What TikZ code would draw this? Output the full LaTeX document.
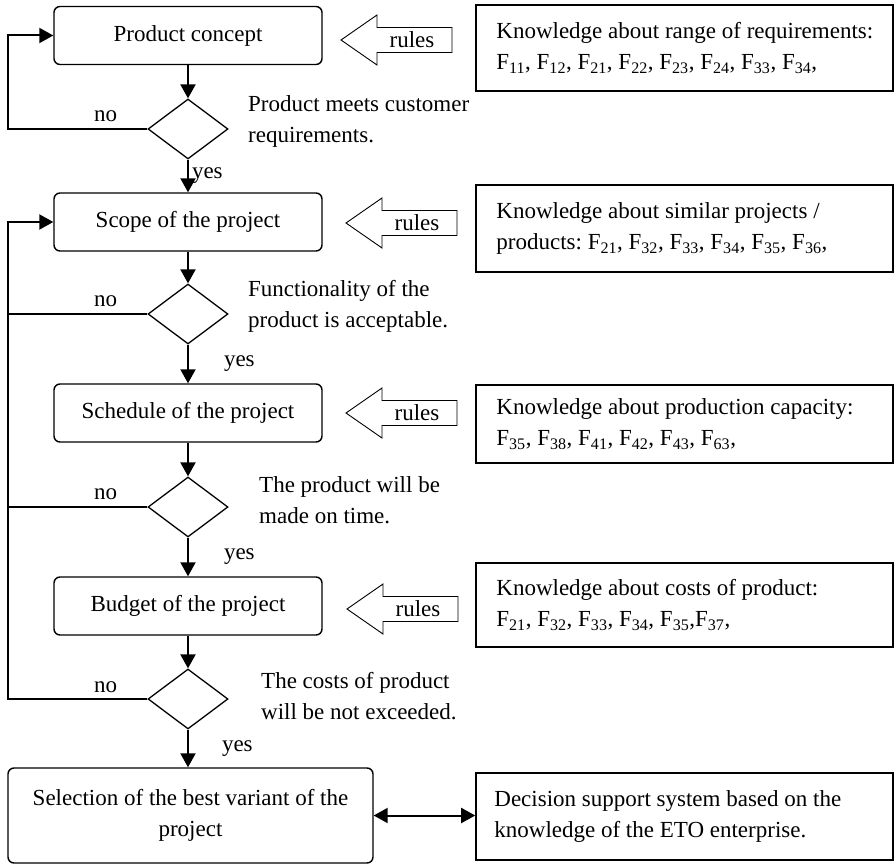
\documentclass[tikz,border=0pt]{standalone}
\usepackage{fontspec}
\setmainfont{Liberation Serif}
\usetikzlibrary{shapes.geometric,arrows.meta}
\begin{document}
\begin{tikzpicture}[x=1pt,y=-1pt,
  font=\fontsize{23}{31}\selectfont\frenchspacing,
  flow/.style={draw, line width=1.4pt, rounded corners=6pt,
    minimum width=268pt, minimum height=58pt, inner sep=0pt},
  test/.style={draw, diamond, line width=1.3pt,
    minimum width=80pt, minimum height=60pt, inner sep=0pt},
  know/.style={draw, line width=1.6pt, minimum width=417pt, inner sep=0pt},
  ktext/.style={anchor=west, align=left, inner sep=0pt},
  cond/.style={anchor=west, align=left, inner sep=0pt},
  link/.style={line width=2pt},
  arr/.style={line width=2pt, -{Triangle[length=14pt,width=15pt]}},
  both/.style={line width=2pt, {Triangle[length=14pt,width=15pt]}-{Triangle[length=14pt,width=15pt]}},
  pics/rulesarrow/.style={code={
    \draw[line width=0.9pt] (0,0) -- (36,-25) -- (36,-12.5) -- (111,-12.5)
      -- (111,12.5) -- (36,12.5) -- (36,25) -- cycle;
    \node[inner sep=0pt] (-lbl) at (71,0) {rules};}}
]
\useasboundingbox (0,0) rectangle (894,864);

% left rail used by the "no" loops
\coordinate (rail) at (8,0);

% main flow
\node[flow] (concept) at (188,35.5) {Product concept};
\node[test] (q1) at (188,129) {};
\node[flow] (scope) at (188,222) {Scope of the project};
\node[test] (q2) at (188,314) {};
\node[flow] (sched) at (188,413) {Schedule of the project};
\node[test] (q3) at (188,507) {};
\node[flow] (budget) at (188,606) {Budget of the project};
\node[test] (q4) at (188,699) {};
\node[flow, minimum width=365pt, minimum height=95pt, align=center]
  (select) at (190.5,815.5) {Selection of the best variant of the\\project};

% decision texts
\node[cond] (c1) at (248,121) {Product meets customer\\requirements.};
\node[cond] (c2) at (248,306) {Functionality of the\\product is acceptable.};
\node[cond] (c3) at (259,500) {The product will be\\made on time.};
\node[cond] (c4) at (261,696) {The costs of product\\will be not exceeded.};

% rules arrows
\pic (r1) at (341,40) {rulesarrow};
\pic (r2) at (346,223) {rulesarrow};
\pic (r3) at (346,413) {rulesarrow};
\pic (r4) at (347,609) {rulesarrow};

% knowledge boxes
\node[know, minimum height=86pt] (k1) at (684.5,48) {};
\node[ktext] (k1t) at ([xshift=21pt]k1.west)
  {Knowledge about range of requirements:\\
   F\textsubscript{11}, F\textsubscript{12}, F\textsubscript{21}, F\textsubscript{22}, F\textsubscript{23}, F\textsubscript{24}, F\textsubscript{33}, F\textsubscript{34},};
\node[know, minimum height=87pt] (k2) at (684.5,228.5) {};
\node[ktext] (k2t) at ([xshift=21pt]k2.west)
  {Knowledge about similar projects /\\
   products: F\textsubscript{21}, F\textsubscript{32}, F\textsubscript{33}, F\textsubscript{34}, F\textsubscript{35}, F\textsubscript{36},};
\node[know, minimum height=78pt] (k3) at (684.5,424) {};
\node[ktext] (k3t) at ([xshift=21pt]k3.west)
  {Knowledge about production capacity:\\
   F\textsubscript{35}, F\textsubscript{38}, F\textsubscript{41}, F\textsubscript{42}, F\textsubscript{43}, F\textsubscript{63},};
\node[know, minimum height=84pt] (k4) at (684.5,605) {};
\node[ktext] (k4t) at ([xshift=21pt]k4.west)
  {Knowledge about costs of product:\\
   F\textsubscript{21}, F\textsubscript{32}, F\textsubscript{33}, F\textsubscript{34}, F\textsubscript{35},F\textsubscript{37},};
\node[know, minimum height=87pt] (k5) at (684.5,816.5) {};
\node[ktext] (k5t) at ([xshift=19pt]k5.west)
  {Decision support system based on the\\knowledge of the ETO enterprise.};

% flow connectors
\draw[arr] (concept) -- (q1);
\draw[arr] (q1) -- node[right=3pt, inner sep=0pt] {yes} (scope);
\draw[arr] (scope) -- (q2);
\draw[arr] (q2) -- node[right=35pt, inner sep=0pt] {yes} (sched);
\draw[arr] (sched) -- (q3);
\draw[arr] (q3) -- node[right=35pt, inner sep=0pt] {yes} (budget);
\draw[arr] (budget) -- (q4);
\draw[arr] (q4.south) -- node[right=33pt, inner sep=0pt] {yes} (q4.south |- select.north);

% "no" loops
\draw[arr] (q1.west) -- node[pos=0.3, above=6pt, inner sep=0pt] {no} (q1.west -| rail) |- (concept.west);
\draw[arr] (q4.west) -- node[pos=0.3, above=5pt, inner sep=0pt] {no} (q4.west -| rail) |- (scope.west);
\draw[link] (q2.west) -- node[pos=0.3, above=6pt, inner sep=0pt] {no} (q2.west -| rail);
\draw[link] (q3.west) -- node[pos=0.3, above=6pt, inner sep=0pt] {no} (q3.west -| rail);

% link to the decision support system
\draw[both] (select.east) -- (select.east -| k5.west);
\end{tikzpicture}
\end{document}
